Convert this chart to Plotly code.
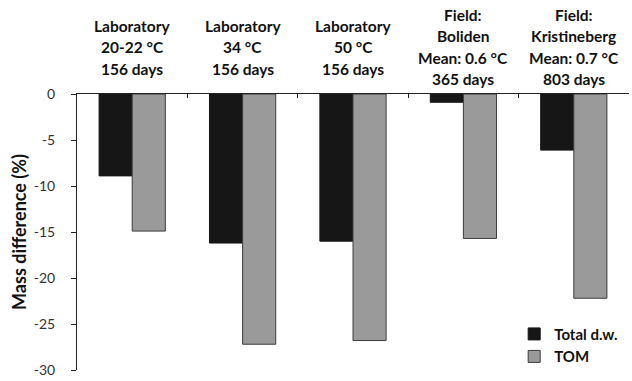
import plotly.graph_objects as go

# Sites / treatments and their mass change (%)
categories = ["lab_20", "lab_34", "lab_50", "boliden", "kristineberg"]
header_lines = [
    ["Laboratory", "20-22 °C", "156 days"],
    ["Laboratory", "34 °C", "156 days"],
    ["Laboratory", "50 °C", "156 days"],
    ["Field:", "Boliden", "Mean: 0.6 °C", "365 days"],
    ["Field:", "Kristineberg", "Mean: 0.7 °C", "803 days"],
]
total_dw = [-8.9, -16.2, -16.0, -0.9, -6.1]
tom = [-14.9, -27.2, -26.8, -15.7, -22.2]

y_tickvals = [0, -5, -10, -15, -20, -25, -30]
y_ticktext = ["0", "-5", "-10", "-15", "-20", "-25", "-30"]

FONT = "Lato, 'Open Sans', sans-serif"

fig = go.Figure()
fig.add_trace(go.Bar(
    x=categories, y=total_dw, name="<b>Total d.w.</b>",
    marker=dict(color="#161616", line=dict(color="#161616", width=1)),
))
fig.add_trace(go.Bar(
    x=categories, y=tom, name="<b>TOM</b>",
    marker=dict(color="#9a9a9a", line=dict(color="#3c3c3c", width=1)),
))

# Multi-line group headers above the plot, one annotation per line
line_step = 21.5
for cat, lines in zip(categories, header_lines):
    n = len(lines)
    for i, txt in enumerate(lines):
        offset = (i - (n - 1) / 2) * line_step
        fig.add_annotation(
            x=cat, xref="x", y=1, yref="paper",
            yshift=47 - offset, yanchor="middle", xanchor="center",
            text="<b>" + txt + "</b>", showarrow=False,
            font=dict(family=FONT, size=15.5, color="#111111"),
        )

fig.update_layout(
    width=632, height=381,
    margin=dict(l=77, r=3, t=94, b=6),
    paper_bgcolor="white", plot_bgcolor="white",
    barmode="group", bargap=0.4, bargroupgap=0,
    font=dict(family=FONT, color="#111111"),
    showlegend=True,
    legend=dict(
        x=0.792, y=0.09, xanchor="left", yanchor="middle",
        font=dict(family=FONT, size=15, color="#111111"),
        bgcolor="rgba(0,0,0,0)", itemwidth=30, traceorder="normal",
    ),
    xaxis=dict(
        type="category", side="top", showticklabels=False,
        showline=True, linecolor="#222222", linewidth=1,
        ticks="inside", ticklen=4, tickcolor="#222222",
        tickson="boundaries", showgrid=False, zeroline=False,
        range=[-0.5, 4.5],
    ),
    yaxis=dict(
        range=[-30, 0], tickvals=y_tickvals, ticktext=y_ticktext,
        showline=True, linecolor="#222222", linewidth=1,
        ticks="outside", ticklen=5, tickcolor="#222222",
        ticklabelstandoff=13, ticklabeloverflow="allow",
        showgrid=False, zeroline=False,
        tickfont=dict(family=FONT, size=14, color="#333333"),
        title=dict(text="<b>Mass difference (%)</b>", standoff=2,
                   font=dict(family=FONT, size=18, color="#111111")),
    ),
)

fig.write_html("out.html")
